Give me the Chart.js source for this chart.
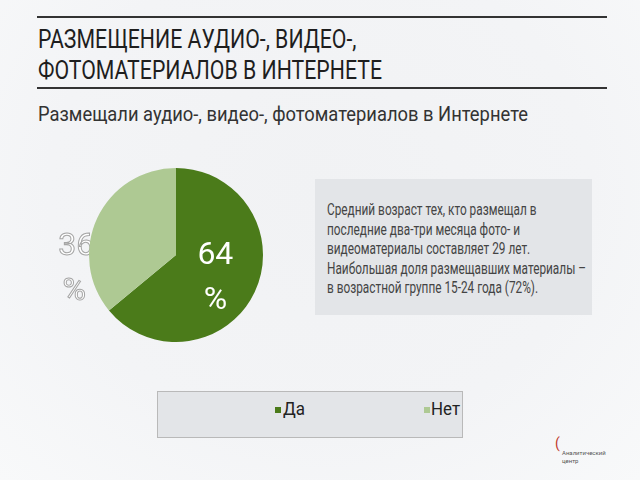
<!DOCTYPE html>
<html lang="ru">
<head>
<meta charset="utf-8">
<script src="https://cdn.jsdelivr.net/npm/chart.js@4"></script>
<style>
  html, body { margin: 0; padding: 0; }
  body {
    width: 640px; height: 480px; overflow: hidden; position: relative;
    background: radial-gradient(ellipse at 50% 40%, #f1f2f4 0%, #f3f4f6 60%, #f8f9fa 100%);
    font-family: Roboto, sans-serif;
    color: #222;
  }
  .rule { position: absolute; left: 37px; width: 570px; height: 2px; background: #333; }
  .fit { position: absolute; white-space: nowrap; transform-origin: 0 0; line-height: 1.2; }
  .title { font-size: 26px; line-height: 31px; color: #1e1e1e; }
  .subtitle { font-size: 21px; color: #333; }
  .note-bg { position: absolute; left: 315px; top: 179px; width: 277px; height: 136px; background: #e3e5e8; }
  .note { font-size: 16px; line-height: 19.5px; color: #444; }
  #pieWrap { position: absolute; left: 40px; top: 150px; width: 260px; height: 220px; }
  .legend {
    position: absolute; left: 157px; top: 391px; width: 306px; height: 47px;
    background: #e3e5e8; border: 1px solid #b9b9b9; box-sizing: border-box;
  }
  .legend i { position: absolute; width: 6px; height: 6px; top: 15px; }
  .legend .fit { top: 6px; font-size: 18px; color: #222; }
  .logo { position: absolute; left: 562px; top: 441px; font-size: 6px; color: #555; line-height: 8px; }
</style>
</head>
<body>
<div class="rule" style="top:16px"></div>
<div class="fit title" data-w="344" style="left:38px;top:24px">РАЗМЕЩЕНИЕ АУДИО-, ВИДЕО-,<br>ФОТОМАТЕРИАЛОВ В ИНТЕРНЕТЕ</div>
<div class="rule" style="top:87px"></div>
<div class="fit subtitle" data-w="490" style="left:38px;top:102px">Размещали аудио-, видео-, фотоматериалов в Интернете</div>

<div id="pieWrap"><canvas id="pie"></canvas></div>

<div class="note-bg"></div>
<div class="fit note" data-w="259" style="left:327px;top:200px">Средний возраст тех, кто размещал в<br>последние два-три месяца фото- и<br>видеоматериалы составляет 29 лет.<br>Наибольшая доля размещавших материалы –<br>в возрастной группе 15-24 года (72%).</div>

<div class="legend" id="legend"></div>

<div class="logo"><span style="color:#c0392b;font-size:14px;position:absolute;left:-7px;top:-2px">(</span>&nbsp;&nbsp;<br>Аналитический<br>центр</div>

<script>
const labels = ['Да', 'Нет'];
const values = [64, 36];
const colors = ['#4b7b1a', '#aec993'];

const labelFont = '32px Roboto, sans-serif';

// подписи долей
const pieLabels = {
  id: 'pieLabels',
  beforeDatasetsDraw(chart) {
    // подпись светлого сектора частично под кругом
    const ctx = chart.ctx;
    const arc = chart.getDatasetMeta(0).data[1];
    const x = arc.x - arc.outerRadius * 1.17;
    const y = arc.y + 15;
    ctx.save();
    ctx.font = labelFont;
    ctx.textAlign = 'center';
    ctx.textBaseline = 'middle';
    ctx.lineWidth = 1;
    ctx.strokeStyle = '#a5a5a5';
    ctx.fillStyle = '#ffffff';
    ctx.fillText(values[1], x + 2, y - 23);
    ctx.strokeText(values[1], x + 2, y - 23);
    ctx.fillText('%', x, y + 22);
    ctx.strokeText('%', x, y + 22);
    ctx.restore();
  },
  afterDatasetsDraw(chart) {
    const ctx = chart.ctx;
    const arc = chart.getDatasetMeta(0).data[0];
    const p = arc.tooltipPosition();
    ctx.save();
    ctx.font = labelFont;
    ctx.textAlign = 'center';
    ctx.textBaseline = 'middle';
    ctx.fillStyle = '#ffffff';
    ctx.fillText(values[0], p.x, p.y - 18);
    ctx.fillText('%', p.x, p.y + 27);
    ctx.restore();
  }
};

const chart = new Chart(document.getElementById('pie'), {
  type: 'pie',
  data: {
    labels: labels,
    datasets: [{
      data: values,
      backgroundColor: colors,
      borderWidth: 0
    }]
  },
  options: {
    responsive: true,
    maintainAspectRatio: false,
    animation: false,
    layout: { padding: { left: 49, right: 37, top: 18, bottom: 28 } },
    plugins: {
      legend: { display: false },
      tooltip: { enabled: false }
    }
  },
  plugins: [pieLabels]
});

// легенда отдельным блоком
const legendEl = document.getElementById('legend');
const legendPos = [{ box: 117, text: 125, w: 22 }, { box: 266, text: 273, w: 29 }];
chart.options.plugins.legend.labels.generateLabels(chart).forEach(function (item, i) {
  const box = document.createElement('i');
  box.style.left = legendPos[i].box + 'px';
  box.style.background = item.fillStyle;
  legendEl.appendChild(box);
  const t = document.createElement('div');
  t.className = 'fit';
  t.style.left = legendPos[i].text + 'px';
  t.dataset.w = legendPos[i].w;
  t.textContent = item.text;
  legendEl.appendChild(t);
});

// узкий шрифт как в оригинале: сжимаем строки по ширине
document.querySelectorAll('.fit').forEach(function (el) {
  const w = el.getBoundingClientRect().width;
  el.style.transform = 'scaleX(' + (el.dataset.w / w) + ')';
});
</script>
</body>
</html>
